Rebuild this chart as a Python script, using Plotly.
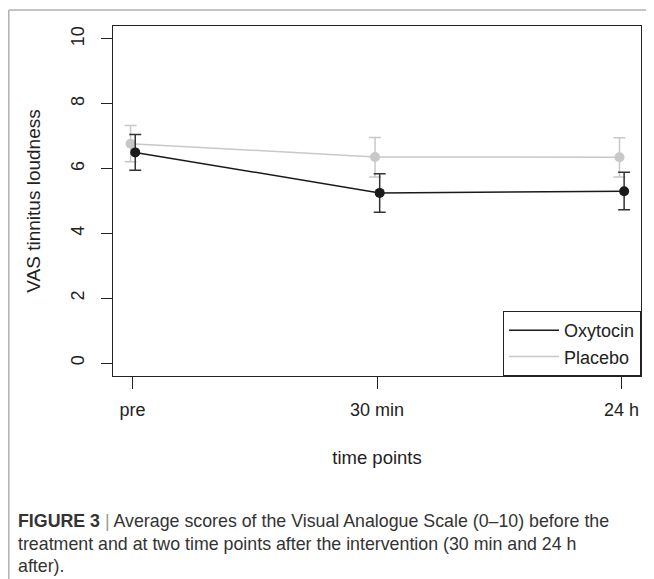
import plotly.graph_objects as go

time_points = ["pre", "30 min", "24 h"]
x_pos = [1, 2, 3]
oxytocin_mean = [6.50, 5.25, 5.30]
oxytocin_upper = [7.05, 5.84, 5.89]
oxytocin_lower = [5.95, 4.65, 4.73]
placebo_mean = [6.77, 6.36, 6.35]
placebo_upper = [7.33, 6.96, 6.95]
placebo_lower = [6.21, 5.74, 5.74]
y_ticks = [0, 2, 4, 6, 8, 10]

OXY_C = "#1a1a1a"
PLA_C = "#c8c8c8"
FONT = "Liberation Sans, Arial, Helvetica, sans-serif"

ox_x = [v + 0.011 for v in x_pos]
pl_x = [v - 0.008 for v in x_pos]

fig = go.Figure()

# placebo (drawn first, underneath)
fig.add_trace(go.Scatter(x=pl_x, y=placebo_mean, mode="lines", name="Placebo",
                         line=dict(color=PLA_C, width=1.5), legendrank=2))
fig.add_trace(go.Scatter(
    x=pl_x, y=placebo_mean, mode="markers", showlegend=False,
    marker=dict(color=PLA_C, size=10),
    error_y=dict(type="data", symmetric=False,
                 array=[u - m for u, m in zip(placebo_upper, placebo_mean)],
                 arrayminus=[m - l for l, m in zip(placebo_lower, placebo_mean)],
                 color=PLA_C, thickness=1.5, width=6)))

# oxytocin
fig.add_trace(go.Scatter(x=ox_x, y=oxytocin_mean, mode="lines", name="Oxytocin",
                         line=dict(color=OXY_C, width=1.5), legendrank=1))
fig.add_trace(go.Scatter(
    x=ox_x, y=oxytocin_mean, mode="markers", showlegend=False,
    marker=dict(color=OXY_C, size=10),
    error_y=dict(type="data", symmetric=False,
                 array=[u - m for u, m in zip(oxytocin_upper, oxytocin_mean)],
                 arrayminus=[m - l for l, m in zip(oxytocin_lower, oxytocin_mean)],
                 color="#333333", thickness=1.5, width=6)))

OFF = 8  # page body margin
W, H = 654 - OFF * 2, 579 - OFF
L, R, T, B = 113 - OFF, 641 - OFF, 26 - OFF, 376 - OFF
pw, ph = R - L, B - T


def px(x):
    return (x - OFF - L) / pw


def py(y):
    return (B - (y - OFF)) / ph


fig.update_layout(
    width=W, height=H,
    margin=dict(l=L, r=W - R, t=T, b=H - B, pad=0),
    paper_bgcolor="white", plot_bgcolor="white",
    font=dict(family=FONT, size=18, color="#222222"),
    showlegend=True,
    legend=dict(x=1, y=0, xanchor="right", yanchor="bottom",
                bordercolor="#222222", borderwidth=1, bgcolor="white",
                font=dict(size=18), tracegroupgap=0, itemwidth=50,
                traceorder="normal"),
    xaxis=dict(range=[0.92, 3.08], tickmode="array", tickvals=x_pos,
               ticktext=time_points, ticks="outside", ticklen=12,
               tickcolor="#222222", showline=True, mirror=True,
               linecolor="#222222", linewidth=1, showgrid=False,
               zeroline=False, ticklabelstandoff=5,
               title=dict(text="time points", font=dict(size=18.5), standoff=32)),
    yaxis=dict(range=[-0.4, 10.4], tickmode="array", tickvals=y_ticks,
               ticks="outside", ticklen=11, tickcolor="#222222",
               tickangle=-90, showline=True, mirror=True,
               linecolor="#222222", linewidth=1, showgrid=False,
               zeroline=False, ticklabelstandoff=10,
               title=dict(text="VAS tinnitus loudness", font=dict(size=19), standoff=22)),
)

# outer frame (top and left grey rule)
fig.add_shape(type="line", xref="paper", yref="paper",
              x0=px(8.8), x1=px(660), y0=py(10), y1=py(10),
              line=dict(color="#b0b0b0", width=1.5))
fig.add_shape(type="line", xref="paper", yref="paper",
              x0=px(8.8), x1=px(8.8), y0=py(10), y1=py(585),
              line=dict(color="#b0b0b0", width=1.5))

cap_lines = [
    ("<b>FIGURE 3</b> <span style='color:#999999'>|</span> Average scores of the "
     "Visual Analogue Scale (0–10) before the", 521),
    ("treatment and at two time points after the intervention (30 min and 24 h", 544),
    ("after).", 566),
]
for txt, yc in cap_lines:
    fig.add_annotation(text=txt, xref="paper", yref="paper",
                       x=px(16), y=py(yc), xanchor="left", yanchor="middle",
                       showarrow=False, align="left",
                       font=dict(family=FONT, size=17.8, color="#333333"))

fig.write_html("out.html")
